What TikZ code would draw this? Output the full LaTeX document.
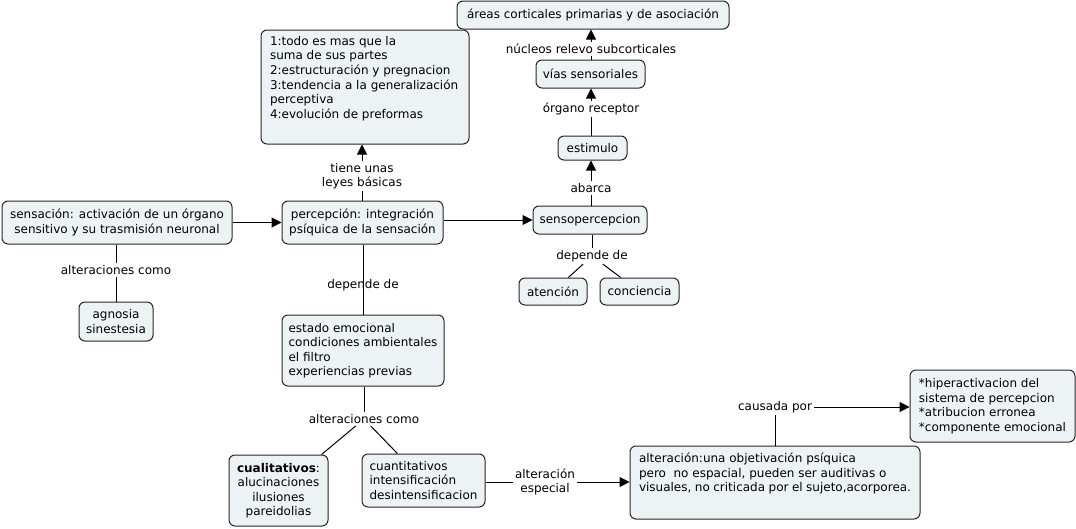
\documentclass[tikz,border=0pt]{standalone}
\usepackage{fontspec}
\setmainfont{DejaVu Sans}
\usetikzlibrary{arrows.meta}
\newcommand{\mapfont}{\fontsize{9}{10.9}\selectfont}
\definecolor{boxfill}{RGB}{237,243,245}
\begin{document}
\begin{tikzpicture}[x=0.75pt,y=-0.75pt,
 box/.style={draw=black!85, line width=0.75pt, fill=boxfill, rounded corners=4.5pt, inner sep=0pt, align=center, font=\mapfont},
 lbl/.style={inner sep=1.5pt, align=center, font=\mapfont},
 con/.style={line width=0.75pt, draw=black},
 arr/.style={con, -{Triangle[length=7.5pt,width=7.5pt]}},
]
\useasboundingbox (0,0) rectangle (1076,529);

% boxes
\node[box, minimum width=204pt, minimum height=21pt] (areas) at (593,15) {áreas corticales primarias y de asociación};
\node[box, minimum width=156pt, minimum height=85.5pt] (leyes) at (365,87)
 {\begin{minipage}[c][76pt][t]{142.5pt}\raggedright\mapfont
 1:todo es mas que la\\
 suma de sus partes\\
 2:estructuración y pregnacion\\
 3:tendencia a la generalización\\
 perceptiva\\
 4:evolución de preformas\end{minipage}};
\node[box, minimum width=81.75pt, minimum height=21pt] (vias) at (590.5,74) {vías sensoriales};
\node[box, minimum width=51.75pt, minimum height=18pt] (est) at (592.5,148) {estimulo};
\node[box, minimum width=172.5pt, minimum height=32.25pt] (sens) at (117,222.5) {sensación: activación de un órgano\\sensitivo y su trasmisión neuronal};
\node[box, minimum width=120.75pt, minimum height=32.25pt] (perc) at (362.5,222.5) {percepción: integración\\psíquica de la sensación};
\node[box, minimum width=85.5pt, minimum height=21pt] (senso) at (590,220) {sensopercepcion};
\node[box, minimum width=51pt, minimum height=20.25pt] (aten) at (553,291.5) {atención};
\node[box, minimum width=59.25pt, minimum height=20.25pt] (conc) at (639.5,291.5) {conciencia};
\node[box, minimum width=55.5pt, minimum height=29.25pt] (agn) at (116,321.5) {agnosia\\sinestesia};
\node[box, minimum width=121.5pt, minimum height=53.25pt, align=left] (estado) at (363,350.5)
 {estado emocional\\condiciones ambientales\\el filtro\\experiencias previas};
\node[box, minimum width=74.25pt, minimum height=53.25pt] (cual) at (278.5,490.5)
 {\textbf{cualitativos}:\\alucinaciones\\ilusiones\\pareidolias};
\node[box, minimum width=92.25pt, minimum height=39.75pt, align=left] (cuan) at (423.5,480.5)
 {cuantitativos\\intensificación\\desintensificacion};
\node[box, minimum width=217.5pt, minimum height=54.75pt] (alt) at (775,482.5)
 {\begin{minipage}[c][44pt][t]{204pt}\raggedright\mapfont
 alteración:una objetivación psíquica\\
 pero\ \ no espacial, pueden ser auditivas o\\
 visuales, no criticada por el sujeto,acorporea.\end{minipage}};
\node[box, minimum width=123.75pt, minimum height=54pt, align=left] (hiper) at (992.5,406)
 {{*}hiperactivacion del\\{}sistema de percepcion\\{*}atribucion erronea\\{*}componente emocional};

% labels
\node[lbl] (l1) at (362,176) {tiene unas\\leyes básicas};
\node[lbl] (l2) at (116,270) {alteraciones como};
\node[lbl] (l3) at (363,285) {depende de};
\node[lbl] (l4) at (591,188) {abarca};
\node[lbl] (l5) at (591,109) {órgano receptor};
\node[lbl] (l6) at (591,49) {núcleos relevo subcorticales};
\node[lbl] (l7) at (592,256) {depende de};
\node[lbl] (l8) at (364,419) {alteraciones como};
\node[lbl] (l9) at (545,482) {alteración\\especial};
\node[lbl] (l10) at (775,407) {causada por};

% connectors
\draw[arr] (sens) -- (perc);
\draw[arr] (perc.east |- senso) -- (senso.west);
\draw[con] (perc.north -| l1) -- (l1.south);
\draw[arr] (l1.north) -- (l1.north |- leyes.south);
\draw[con] (sens.south -| l2) -- (l2.north);
\draw[con] (l2.south) -- (l2.south |- agn.north);
\draw[con] (perc.south -| estado) -- (estado.north);
\draw[con] (senso.north -| l4) -- (l4.south);
\draw[arr] (l4.north) -- (l4.north |- est.south);
\draw[con] (est.north -| l5) -- (l5.south);
\draw[arr] (l5.north) -- (l5.north |- vias.south);
\draw[con] (vias.north -| l6) -- (l6.south);
\draw[arr] (l6.north) -- (l6.north |- areas.south);
\draw[con] (senso.south -| l7) -- (l7.north);
\draw[con] (l7) -- (aten);
\draw[con] (l7) -- (conc);
\draw[con] (estado.south -| l8) -- (l8.north);
\draw[con] (l8) -- (cual);
\draw[con] (l8) -- (cuan);
\draw[con] (cuan.east |- l9) -- (l9.west);
\draw[arr] (l9.east) -- (l9.east -| alt.west);
\draw[con] (alt.north -| l10) -- (l10.south);
\draw[arr] (l10.east) -- (l10.east -| hiper.west);
\end{tikzpicture}
\end{document}
